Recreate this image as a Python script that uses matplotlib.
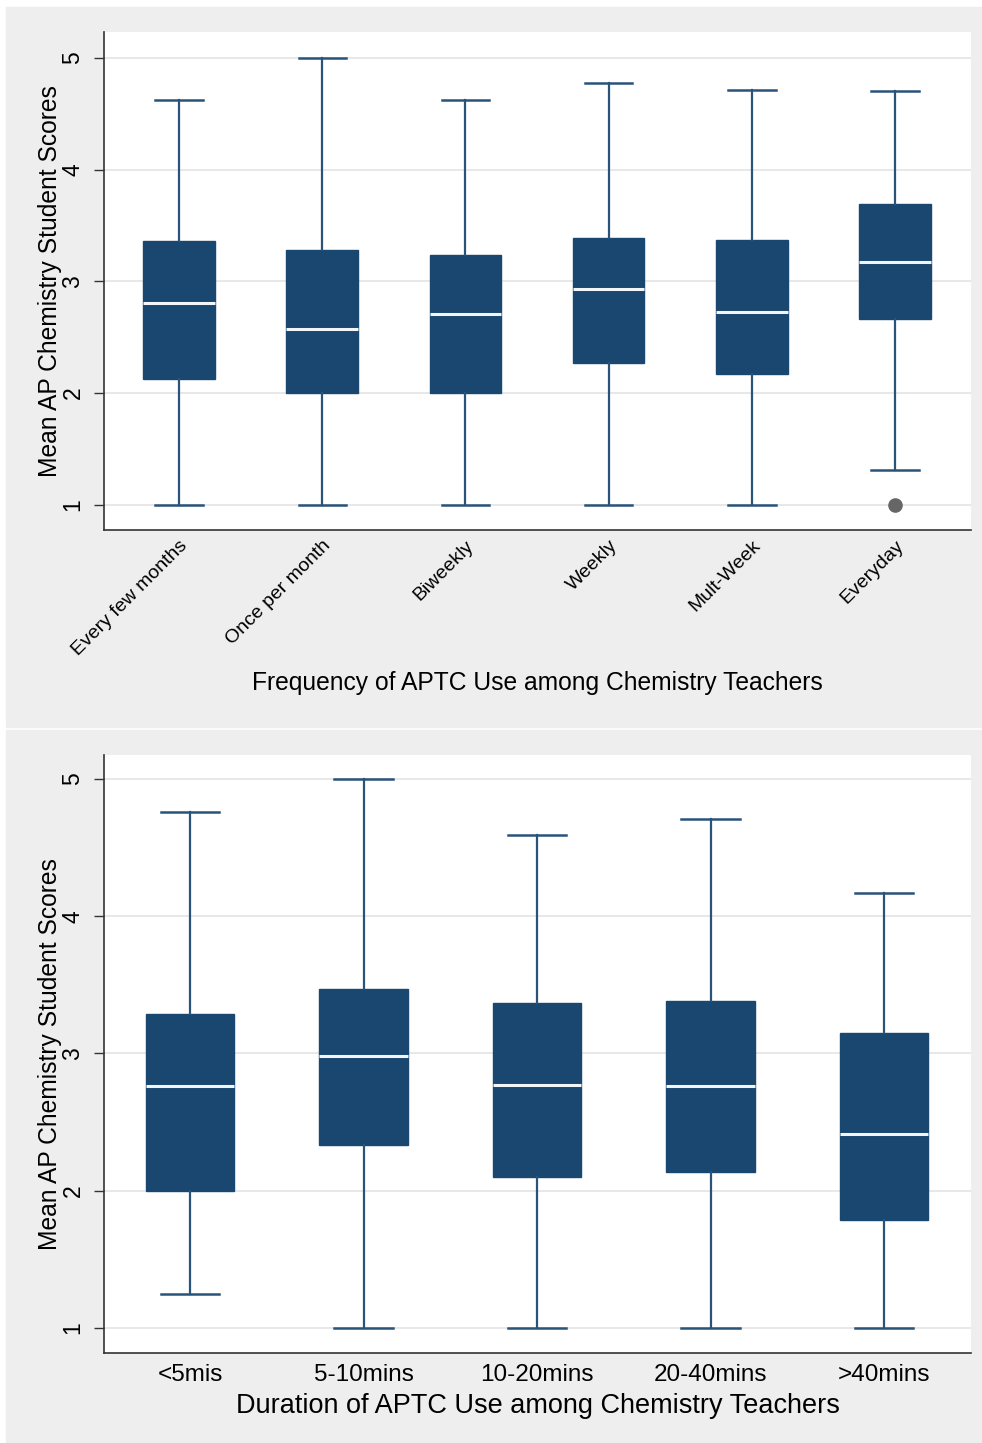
import matplotlib
matplotlib.use('Agg')
import matplotlib.pyplot as plt
from matplotlib.patches import Rectangle

plt.rcParams['font.family'] = ['Liberation Sans', 'DejaVu Sans']

# Frequency of APTC use (top panel)
freq_labels = ['Every few months', 'Once per month', 'Biweekly', 'Weekly', 'Mult-Week', 'Everyday']
freq_whislo = [1.00, 1.00, 1.00, 1.00, 1.00, 1.31]
freq_q1 = [2.13, 2.00, 2.00, 2.27, 2.17, 2.66]
freq_med = [2.81, 2.57, 2.71, 2.93, 2.73, 3.17]
freq_q3 = [3.36, 3.28, 3.24, 3.39, 3.37, 3.69]
freq_whishi = [4.62, 5.00, 4.62, 4.77, 4.71, 4.70]
freq_fliers = [[], [], [], [], [], [1.00]]

# Duration of APTC use (bottom panel)
dur_labels = ['<5mis', '5-10mins', '10-20mins', '20-40mins', '>40mins']
dur_whislo = [1.25, 1.00, 1.00, 1.00, 1.00]
dur_q1 = [2.00, 2.33, 2.10, 2.14, 1.79]
dur_med = [2.76, 2.98, 2.77, 2.76, 2.41]
dur_q3 = [3.29, 3.47, 3.37, 3.38, 3.15]
dur_whishi = [4.76, 5.00, 4.59, 4.71, 4.17]
dur_fliers = [[], [], [], [], []]

NAVY = '#1a476f'
WHISK = '#2a5379'
BG = '#eeeeee'
GRID = '#e6e6e6'


def make_stats(labels, lo, q1, med, q3, hi, fl):
    stats = []
    for i in range(len(labels)):
        stats.append(dict(label=labels[i], whislo=lo[i], q1=q1[i], med=med[i],
                          q3=q3[i], whishi=hi[i], fliers=fl[i]))
    return stats


def draw_panel(ax, stats, xlim, ylim, xlabel, widths, xlabel_size):
    ax.set_facecolor('white')
    for y in [1, 2, 3, 4, 5]:
        ax.axhline(y, color=GRID, lw=1.3, zorder=0)
    ax.bxp(stats, positions=range(1, len(stats) + 1), widths=widths,
           patch_artist=True, showcaps=True, capwidths=widths * 0.66,
           boxprops=dict(facecolor=NAVY, edgecolor=NAVY, lw=1),
           whiskerprops=dict(color=WHISK, lw=1.6),
           capprops=dict(color=WHISK, lw=1.8),
           medianprops=dict(color='#f2f5fa', lw=2.2),
           flierprops=dict(marker='o', markerfacecolor='#666666',
                           markeredgecolor='#666666', markersize=9.5))
    ax.set_xlim(*xlim)
    ax.set_ylim(*ylim)
    ax.set_yticks([1, 2, 3, 4, 5])
    ax.set_yticklabels(['1', '2', '3', '4', '5'], rotation=90, va='center')
    ax.tick_params(axis='y', length=7, width=1, color='#333333', labelsize=16.5, pad=7)
    ax.tick_params(axis='x', length=0)
    for side in ['top', 'right']:
        ax.spines[side].set_visible(False)
    for side in ['left', 'bottom']:
        ax.spines[side].set_color('#333333')
        ax.spines[side].set_linewidth(1.2)
    ax.set_ylabel('Mean AP Chemistry Student Scores', fontsize=17.7, labelpad=0)
    ax.set_xlabel(xlabel, fontsize=xlabel_size)


fig = plt.figure(figsize=(9.82, 14.43), dpi=100)
fig.patch.set_facecolor('white')
fig.patches.append(Rectangle((6 / 982, 1 - 727 / 1443), 1, 720 / 1443,
                             transform=fig.transFigure, color=BG, zorder=-10))
fig.patches.append(Rectangle((6 / 982, 0), 1, 1 - 730 / 1443,
                             transform=fig.transFigure, color=BG, zorder=-10))

ax1 = fig.add_axes([0.1059, 0.6327, 0.8829, 0.3451])
draw_panel(ax1, make_stats(freq_labels, freq_whislo, freq_q1, freq_med, freq_q3,
                           freq_whishi, freq_fliers),
           (0.476, 6.53), (0.776, 5.23),
           'Frequency of APTC Use among Chemistry Teachers', 0.50, 17.7)
for lab in ax1.get_xticklabels():
    lab.set_rotation(45)
    lab.set_ha('right')
    lab.set_rotation_mode('anchor')
ax1.tick_params(axis='x', labelsize=14, pad=5)
ax1.xaxis.labelpad = 9

ax2 = fig.add_axes([0.1059, 0.0624, 0.8829, 0.4144])
draw_panel(ax2, make_stats(dur_labels, dur_whislo, dur_q1, dur_med, dur_q3,
                           dur_whishi, dur_fliers),
           (0.504, 5.50), (0.818, 5.175),
           'Duration of APTC Use among Chemistry Teachers', 0.51, 19.5)
ax2.tick_params(axis='x', labelsize=17.5, pad=8)
ax2.xaxis.labelpad = 5

fig.savefig('out.png', dpi=100, facecolor=fig.get_facecolor())
